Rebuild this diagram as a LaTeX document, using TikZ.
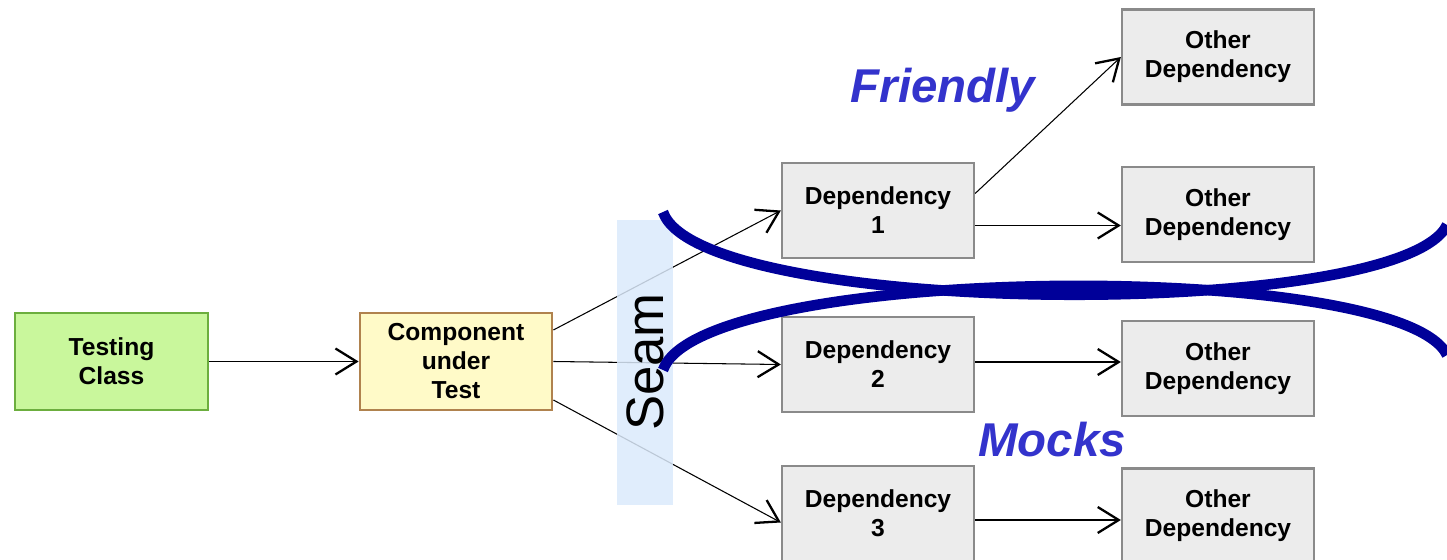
\documentclass[tikz,border=0pt]{standalone}
\usepackage{fontspec}
\setmainfont{Liberation Sans}
\usetikzlibrary{arrows.meta}
\definecolor{test-green}{HTML}{C9F79C}
\definecolor{test-edge}{HTML}{6CAE3E}
\definecolor{cut-yellow}{HTML}{FFFAC8}
\definecolor{cut-edge}{HTML}{B0824E}
\definecolor{dep-gray}{HTML}{ECECEC}
\definecolor{dep-edge}{HTML}{8A8A8A}
\definecolor{seam-blue}{HTML}{DBEAFB}
\definecolor{curve-navy}{HTML}{000099}
\definecolor{label-blue}{HTML}{3333CC}
\tikzset{
  box/.style={draw=dep-edge, fill=dep-gray, line width=1.3pt, minimum width=3.84cm, minimum height=1.9cm,
    align=center, inner sep=2pt, font=\fontsize{14}{16.5}\selectfont\bfseries},
  link/.style={line width=0.6pt, -{Straight Barb[length=0.42cm, width=0.52cm, line width=1.3pt]}},
  tag/.style={text=label-blue, font=\fontsize{27}{30}\selectfont\bfseries\itshape}
}
\begin{document}
\begin{tikzpicture}[x=0.02cm, y=-0.02cm]
  \useasboundingbox (0,0) rectangle (1447,560);
  \clip (0,0) rectangle (1447,560);

  \node[box, draw=test-edge, fill=test-green, line width=1.6pt, minimum width=3.86cm, minimum height=1.94cm] (test) at (111.5,361.5) {Testing\\Class};
  \node[box, draw=cut-edge, fill=cut-yellow, line width=1.6pt, minimum height=1.94cm] (cut) at (456,361.5) {Component\\under\\Test};

  \node[box] (dep1) at (878,210.5) {Dependency\\1};
  \node[box] (dep2) at (878,364.5) {Dependency\\2};
  \node[box] (dep3) at (878,513.5) {Dependency\\3};

  \node[box] (oth1) at (1218,57) {Other\\Dependency};
  \node[box] (oth2) at (1218,214.5) {Other\\Dependency};
  \node[box] (oth3) at (1218,368.5) {Other\\Dependency};
  \node[box] (oth4) at (1218,516) {Other\\Dependency};

  \draw[link] (test.east) -- (cut.west);
  \draw[link] ([yshift=0.63cm]cut.east) -- (dep1.west);
  \draw[link] (cut.east) -- (dep2.west);
  \draw[link] ([yshift=-0.77cm]cut.east) -- ([yshift=-0.18cm]dep3.west);
  \draw[link] ([yshift=0.34cm]dep1.east) -- (oth1.west);
  \draw[link] ([yshift=-0.3cm]dep1.east) -- ([yshift=-0.3cm]dep1.east -| oth2.west);
  \draw[link] ([yshift=0.05cm]dep2.east) -- ([yshift=0.05cm]dep2.east -| oth3.west);
  \draw[link] ([yshift=-0.13cm]dep3.east) -- ([yshift=-0.13cm]dep3.east -| oth4.west);

  \fill[seam-blue, fill opacity=0.85] (617,220) rectangle (673,505);
  \node[rotate=90, font=\fontsize{30}{32}\selectfont] (seam) at (645,362) {Seam};

  \draw[curve-navy, line width=6pt] (663,212) .. controls (700,318) and (1400,322) .. (1447,225);
  \draw[curve-navy, line width=6pt] (663,370) .. controls (700,263) and (1400,258) .. (1447,355);

  \node[tag] (friendly) at (943,90) {Friendly};
  \node[tag] (mocks) at (1052,440) {Mocks};
\end{tikzpicture}
\end{document}
